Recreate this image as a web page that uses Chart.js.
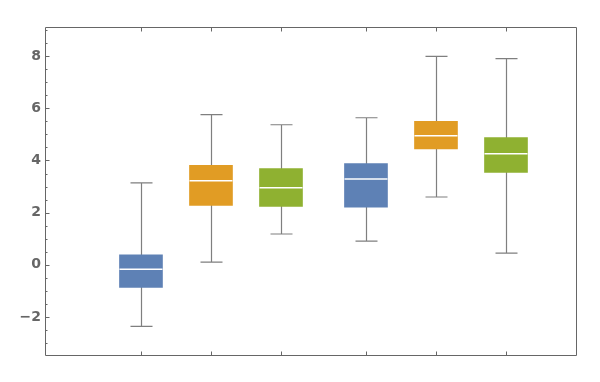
<!DOCTYPE html>
<html>
<head>
<meta charset="utf-8">
<script src="https://cdn.jsdelivr.net/npm/chart.js@4"></script>
<style>
html, body { margin: 0; padding: 0; background: #fff; }
</style>
</head>
<body>
<canvas id="boxChart" width="600" height="382"></canvas>
<script>
// boxes in drawing order: group 1 (series 1..3), group 2 (series 1..3)
const seriesNames = ['Series 1', 'Series 2', 'Series 3'];
const seriesColors = ['#5e81b5', '#e19c24', '#8fb131'];
const minVals = [-2.36, 0.10, 1.18, 0.91, 2.60, 0.45];
const q1Vals = [-0.87, 2.28, 2.24, 2.21, 4.44, 3.54];
const medianVals = [-0.17, 3.22, 2.95, 3.29, 4.95, 4.26];
const q3Vals = [0.385, 3.81, 3.69, 3.88, 5.50, 4.88];
const maxVals = [3.14, 5.76, 5.37, 5.64, 7.99, 7.91];
const yTicks = [-2, 0, 2, 4, 6, 8];

const perGroup = seriesNames.length;
const groupGap = 0.214;
function boxX(i) {
    return Math.floor(i / perGroup) * (perGroup + groupGap) + (i % perGroup);
}

const datasets = seriesNames.map(function (name, s) {
    const pts = [];
    for (let i = s; i < q1Vals.length; i += perGroup) {
        pts.push({ x: boxX(i), y: [q1Vals[i], q3Vals[i]] });
    }
    return {
        label: name,
        data: pts,
        backgroundColor: seriesColors[s],
        borderWidth: 0,
        barThickness: 43,
        grouped: false
    };
});

const boxPlugin = {
    id: 'boxPlugin',
    beforeDatasetsDraw: function (chart) {
        const ctx = chart.ctx;
        const xs = chart.scales.x, ys = chart.scales.y;
        ctx.save();
        ctx.strokeStyle = '#7f7f7f';
        ctx.lineWidth = 1.2;
        for (let i = 0; i < minVals.length; i++) {
            const px = Math.round(xs.getPixelForValue(boxX(i))) + 0.5;
            const lo = ys.getPixelForValue(minVals[i]);
            const hi = ys.getPixelForValue(maxVals[i]);
            ctx.beginPath();
            ctx.moveTo(px, lo); ctx.lineTo(px, hi);
            ctx.moveTo(px - 11, lo); ctx.lineTo(px + 11, lo);
            ctx.moveTo(px - 11, hi); ctx.lineTo(px + 11, hi);
            ctx.stroke();
        }
        ctx.restore();
    },
    afterDatasetsDraw: function (chart) {
        const ctx = chart.ctx;
        const xs = chart.scales.x, ys = chart.scales.y;
        ctx.save();
        ctx.strokeStyle = '#ffffff';
        ctx.lineWidth = 1.5;
        for (let i = 0; i < medianVals.length; i++) {
            const px = xs.getPixelForValue(boxX(i));
            const py = ys.getPixelForValue(medianVals[i]);
            ctx.beginPath();
            ctx.moveTo(px - 21.5, py); ctx.lineTo(px + 21.5, py);
            ctx.stroke();
        }
        ctx.restore();
    },
    afterDraw: function (chart) {
        const ctx = chart.ctx;
        const a = chart.chartArea;
        const xs = chart.scales.x, ys = chart.scales.y;
        const l = Math.round(a.left) + 0.5, r = Math.round(a.right) + 0.5;
        const t = Math.round(a.top) + 0.5, b = Math.round(a.bottom) + 0.5;
        ctx.save();
        ctx.strokeStyle = '#666666';
        ctx.lineWidth = 1;
        ctx.beginPath();
        ctx.rect(l, t, r - l, b - t);
        // minor/major ticks on the left
        for (let v = Math.ceil(ys.min * 2) / 2; v <= ys.max; v += 0.5) {
            const py = Math.round(ys.getPixelForValue(v)) + 0.5;
            const len = yTicks.indexOf(v) >= 0 ? 4 : 2;
            ctx.moveTo(l, py); ctx.lineTo(l + len, py);
        }
        // ticks at box centres, top and bottom
        for (let i = 0; i < q1Vals.length; i++) {
            const px = Math.round(xs.getPixelForValue(boxX(i))) + 0.5;
            ctx.moveTo(px, b); ctx.lineTo(px, b - 4);
            ctx.moveTo(px, t); ctx.lineTo(px, t + 4);
        }
        ctx.stroke();
        ctx.restore();
    }
};

new Chart(document.getElementById('boxChart'), {
    type: 'bar',
    data: { datasets: datasets },
    options: {
        responsive: false,
        devicePixelRatio: 1,
        animation: false,
        layout: { padding: { top: 27, right: 24, left: 0, bottom: 0 } },
        plugins: { legend: { display: false }, tooltip: { enabled: false } },
        scales: {
            x: {
                type: 'linear',
                offset: false,
                min: -1.371,
                max: 6.214,
                grid: { display: false, drawTicks: false },
                border: { display: false },
                ticks: { display: false },
                afterFit: function (s) { s.height = 27; }
            },
            y: {
                min: -3.46,
                max: 9.12,
                grid: { display: false, drawTicks: false },
                border: { display: false },
                afterBuildTicks: function (s) {
                    s.ticks = yTicks.map(function (v) { return { value: v }; });
                },
                ticks: {
                    color: '#666666',
                    padding: 4,
                    font: { family: 'DejaVu Sans', weight: 'bold', size: 14 },
                    callback: function (v) { return v < 0 ? '\u2212' + Math.abs(v) : String(v); }
                },
                afterFit: function (s) { s.width = 45; }
            }
        }
    },
    plugins: [boxPlugin]
});
</script>
</body>
</html>
